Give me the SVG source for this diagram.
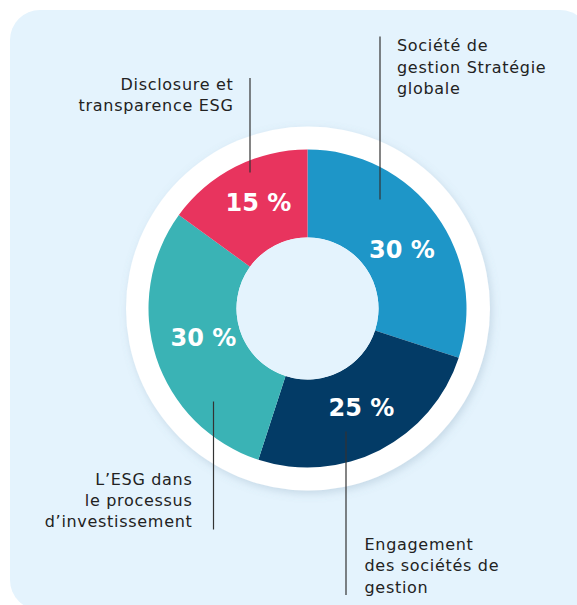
<svg xmlns="http://www.w3.org/2000/svg" width="577" height="605" viewBox="0 0 577 605">
  <defs>
    <filter id="shadow" x="-20%" y="-20%" width="140%" height="140%">
      <feDropShadow dx="2" dy="3" stdDeviation="4" flood-color="#6a8aa0" flood-opacity="0.25"/>
    </filter>
  </defs>
  <style>
    .lbl { font-family: "DejaVu Sans", "Open Sans", sans-serif; font-size: 16px; letter-spacing: 0.7px; fill: #222; }
    .pct { font-family: "DejaVu Sans", "Open Sans", sans-serif; font-size: 24px; font-weight: bold; fill: #fff; text-anchor: middle; }
    .end { text-anchor: end; }
    .conn line { stroke: #333; stroke-width: 1.2; }
  </style>
  <rect id="background" x="10" y="10" width="580" height="600" rx="30" ry="30" fill="#e4f3fd"/>
  <circle id="plate" cx="308" cy="308.5" r="182" fill="#fff" filter="url(#shadow)"/>

  <g id="seg-strategie">
    <path d="M307.5,149.5 A159,159 0 0 1 458.72,357.63 L375.03,330.44 A71,71 0 0 0 307.5,237.5 Z" fill="#1e96c8"/>
    <text class="pct" x="402" y="257.5">30 %</text>
  </g>
  <g id="seg-engagement">
    <path d="M458.72,357.63 A159,159 0 0 1 258.37,459.72 L285.56,376.03 A71,71 0 0 0 375.03,330.44 Z" fill="#033b66"/>
    <text class="pct" x="361.5" y="416">25 %</text>
  </g>
  <g id="seg-processus">
    <path d="M258.37,459.72 A159,159 0 0 1 178.87,215.04 L250.06,266.77 A71,71 0 0 0 285.56,376.03 Z" fill="#3ab3b5"/>
    <text class="pct" x="203.5" y="346">30 %</text>
  </g>
  <g id="seg-disclosure">
    <path d="M178.87,215.04 A159,159 0 0 1 307.5,149.5 L307.5,237.5 A71,71 0 0 0 250.06,266.77 Z" fill="#e8345e"/>
    <text class="pct" x="258.5" y="210.5">15 %</text>
  </g>
  <circle id="hole" cx="307.5" cy="308.5" r="71" fill="#e4f3fd"/>

  <g id="connectors" class="conn">
    <line x1="250" y1="78" x2="250" y2="172.5"/>
    <line x1="380" y1="36.5" x2="380" y2="199.5"/>
    <line x1="213.5" y1="401.5" x2="213.5" y2="529.5"/>
    <line x1="346" y1="431.5" x2="346" y2="595"/>
  </g>

  <g id="label-disclosure">
    <text class="lbl end" x="233.5" y="90">Disclosure et</text>
    <text class="lbl end" x="233.5" y="111">transparence ESG</text>
  </g>
  <g id="label-strategie">
    <text class="lbl" x="397" y="51">Société de</text>
    <text class="lbl" x="397" y="72.5">gestion Stratégie</text>
    <text class="lbl" x="397" y="94">globale</text>
  </g>
  <g id="label-processus">
    <text class="lbl end" x="192.5" y="485">L’ESG dans</text>
    <text class="lbl end" x="192.5" y="506">le processus</text>
    <text class="lbl end" x="192.5" y="527">d’investissement</text>
  </g>
  <g id="label-engagement">
    <text class="lbl" x="364.5" y="549.5">Engagement</text>
    <text class="lbl" x="364.5" y="571">des sociétés de</text>
    <text class="lbl" x="364.5" y="592.5">gestion</text>
  </g>
</svg>
